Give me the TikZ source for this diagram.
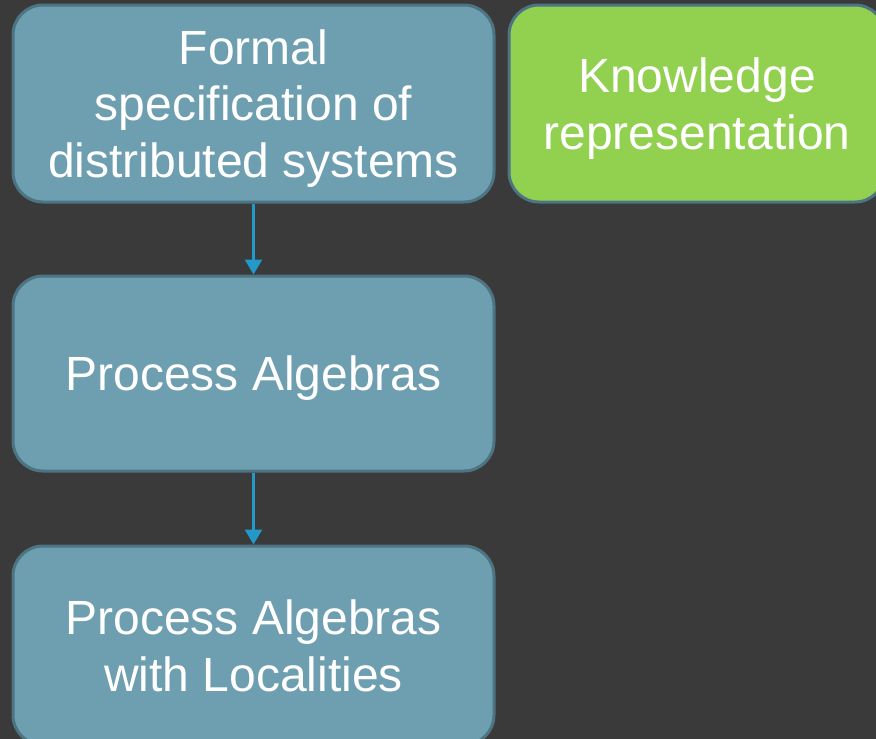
\documentclass[tikz,border=0pt]{standalone}
\usepackage{fontspec}
\setmainfont{Liberation Sans}
\usetikzlibrary{arrows.meta}
\definecolor{bgdark}{HTML}{3A3A3A}
\definecolor{tealfill}{HTML}{6E9FB0}
\definecolor{tealedge}{HTML}{4C7483}
\definecolor{leaf}{HTML}{92D050}
\definecolor{arrowblue}{HTML}{2299C8}
\tikzset{
  topic/.style={draw=tealedge, line width=3pt, fill=tealfill, rounded corners=30pt,
    text=white, align=center, inner sep=0pt, text depth=0pt,
    font=\fontsize{48}{56.7}\selectfont},
  link/.style={draw=arrowblue, line width=2.5pt, -{Triangle[width=17pt,length=15pt]}}
}
\begin{document}
\begin{tikzpicture}[x=1pt,y=-1pt]
  \useasboundingbox (0,0) rectangle (876,739);
  \fill[bgdark] (0,0) rectangle (876,739);

  \node[topic, minimum width=481pt, minimum height=197pt] (spec) at (253.5,103.5)
    {Formal\\specification of\\distributed systems};
  \node[topic, fill=leaf, minimum width=376pt, minimum height=197pt] (know) at (697,103.5)
    {Knowledge\\representation};
  \node[topic, minimum width=481pt, minimum height=195pt] (pa) at (253.5,373.5)
    {Process Algebras};
  \node[topic, minimum width=481pt, minimum height=199pt] (pal) at (253.5,645.5)
    {Process Algebras\\with Localities};

  \draw[link] (spec.south) -- (pa.north);
  \draw[link] (pa.south) -- (pal.north);
\end{tikzpicture}
\end{document}
